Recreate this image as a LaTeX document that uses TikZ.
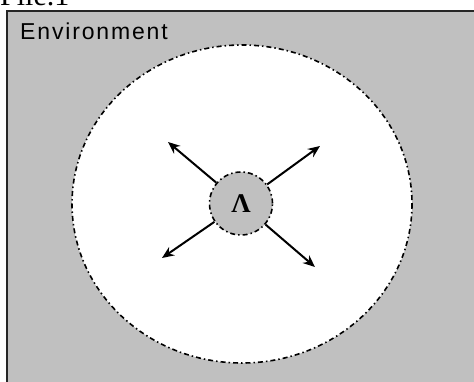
\documentclass[tikz,border=0pt]{standalone}
\usepackage{fontspec}
\setmainfont{Liberation Serif}
\newfontfamily\arialfont[LetterSpace=8]{Liberation Sans}
\usetikzlibrary{arrows.meta}
\begin{document}
\begin{tikzpicture}[x=1pt,y=-1pt,
  envfill/.style={fill=envgray},
  dashline/.style={draw=black,line width=1.6pt,dash pattern=on 5pt off 3pt on 1.5pt off 3pt},
  arr/.style={-{Stealth[length=12pt,width=10pt]},line width=2pt}]
\definecolor{envgray}{RGB}{192,192,192}
\useasboundingbox (0,0) rectangle (474,382);
\clip (0,0) rectangle (474,382);
\node[anchor=base west,inner sep=0pt,font=\fontsize{30}{32}\selectfont] (title) at (0,6) {File.1};
\fill[white] (0,8) rectangle (474,10);
\draw[envfill,draw=black!85,line width=2.5pt] (7,11) rectangle (490,400);
\node[anchor=base west,inner sep=0pt,font=\arialfont\fontsize{23}{25}\selectfont] (env) at (20,40) {Environment};
\path[fill=white,dashline] (242,204) ellipse [x radius=170, y radius=159];
\node[circle,minimum size=63pt,inner sep=0pt,fill=envgray,dashline] (A) at (241,203.5) {\fontsize{27}{29}\selectfont\textbf{Λ}};
\coordinate (ul) at (168,142);
\coordinate (ur) at (320,146);
\coordinate (ll) at (162,258);
\coordinate (lr) at (315,267);
\draw[arr] (A) -- (ul);
\draw[arr] (A) -- (ur);
\draw[arr] (A) -- (ll);
\draw[arr] (A) -- (lr);
\end{tikzpicture}
\end{document}
